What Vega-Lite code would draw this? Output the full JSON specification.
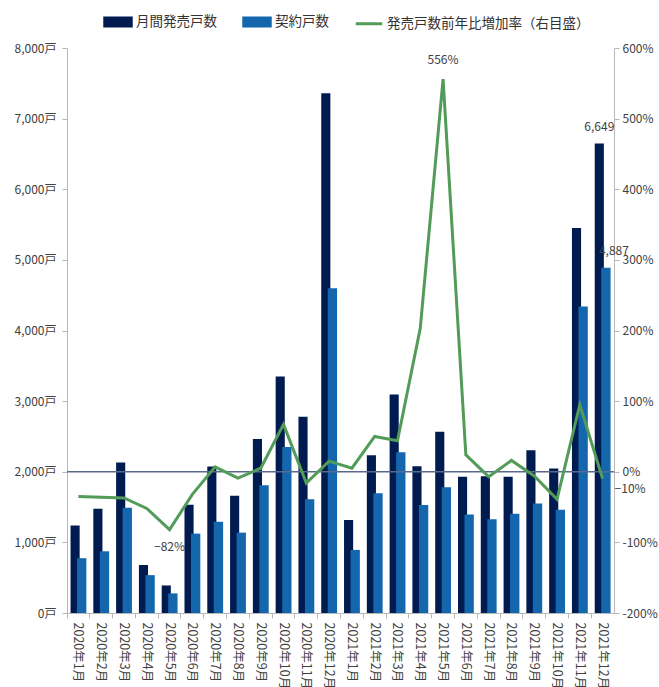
{
  "$schema": "https://vega.github.io/schema/vega-lite/v6.json",
  "width": 547,
  "height": 565,
  "autosize": {"type": "none"},
  "padding": {"left": 67, "top": 48, "right": 45, "bottom": 74},
  "background": "white",
  "config": {
    "font": "Noto Sans CJK JP",
    "view": {"stroke": null},
    "axis": {
      "grid": false,
      "title": null,
      "domainColor": "#b8b8b8",
      "tickColor": "#b8b8b8",
      "tickSize": 5,
      "labelFontSize": 12,
      "labelColor": "#404040",
      "labelFont": "Noto Sans CJK JP"
    }
  },
  "data": {
    "values": [
      {"month": "2020年1月", "sales": 1240, "contracts": 776, "rate": -35},
      {"month": "2020年2月", "sales": 1477, "contracts": 874, "rate": -36},
      {"month": "2020年3月", "sales": 2130, "contracts": 1491, "rate": -37},
      {"month": "2020年4月", "sales": 680, "contracts": 536, "rate": -52},
      {"month": "2020年5月", "sales": 390, "contracts": 278, "rate": -82},
      {"month": "2020年6月", "sales": 1533, "contracts": 1124, "rate": -32},
      {"month": "2020年7月", "sales": 2073, "contracts": 1293, "rate": 7},
      {"month": "2020年8月", "sales": 1660, "contracts": 1138, "rate": -9},
      {"month": "2020年9月", "sales": 2464, "contracts": 1810, "rate": 5},
      {"month": "2020年10月", "sales": 3347, "contracts": 2351, "rate": 67},
      {"month": "2020年11月", "sales": 2779, "contracts": 1612, "rate": -16},
      {"month": "2020年12月", "sales": 7360, "contracts": 4600, "rate": 15},
      {"month": "2021年1月", "sales": 1316, "contracts": 893, "rate": 5},
      {"month": "2021年2月", "sales": 2233, "contracts": 1697, "rate": 50},
      {"month": "2021年3月", "sales": 3093, "contracts": 2275, "rate": 44},
      {"month": "2021年4月", "sales": 2078, "contracts": 1528, "rate": 203},
      {"month": "2021年5月", "sales": 2567, "contracts": 1782, "rate": 556},
      {"month": "2021年6月", "sales": 1928, "contracts": 1396, "rate": 24},
      {"month": "2021年7月", "sales": 1937, "contracts": 1326, "rate": -7},
      {"month": "2021年8月", "sales": 1928, "contracts": 1406, "rate": 16},
      {"month": "2021年9月", "sales": 2304, "contracts": 1551, "rate": -6},
      {"month": "2021年10月", "sales": 2045, "contracts": 1462, "rate": -39},
      {"month": "2021年11月", "sales": 5450, "contracts": 4340, "rate": 95},
      {"month": "2021年12月", "sales": 6649, "contracts": 4887, "rate": -10}
    ]
  },
  "layer": [
    {
      "layer": [
        {
          "mark": {"type": "bar", "width": {"band": 0.4}, "xOffset": -3.3, "color": "#001b50"},
          "encoding": {
            "x": {
              "field": "month",
              "type": "nominal",
              "sort": null,
              "scale": {
                "domain": ["2020年1月", "2020年2月", "2020年3月", "2020年4月", "2020年5月", "2020年6月", "2020年7月", "2020年8月", "2020年9月", "2020年10月", "2020年11月", "2020年12月", "2021年1月", "2021年2月", "2021年3月", "2021年4月", "2021年5月", "2021年6月", "2021年7月", "2021年8月", "2021年9月", "2021年10月", "2021年11月", "2021年12月"],
                "paddingInner": 0,
                "paddingOuter": 0
              },
              "axis": {
                "labelAngle": 90,
                "labelPadding": 4,
                "bandPosition": 0,
                "labelFontSize": 12.5
              }
            },
            "y": {
              "field": "sales",
              "type": "quantitative",
              "scale": {"domain": [0, 8000], "nice": false},
              "axis": {
                "orient": "left",
                "values": [0, 1000, 2000, 3000, 4000, 5000, 6000, 7000, 8000],
                "labelExpr": "format(datum.value, ',') + '戸'",
                "labelPadding": 6
              }
            },
            "color": {
              "datum": "月間発売戸数",
              "type": "nominal",
              "scale": {
                "domain": ["月間発売戸数", "契約戸数", "発売戸数前年比増加率（右目盛）"],
                "range": ["#001b50", "#1466ad", "#529b58"]
              },
              "legend": {
                "orient": "none",
                "legendX": 36,
                "legendY": -41,
                "direction": "horizontal",
                "title": null,
                "labelFontSize": 13.5,
                "labelColor": "#333333",
                "labelFont": "Noto Sans CJK JP",
                "labelLimit": 400,
                "symbolSize": 700,
                "columnPadding": 20,
                "labelOffset": 3,
                "encode": {
                  "symbols": {
                    "update": {
                      "shape": {"signal": "datum.value === '発売戸数前年比増加率（右目盛）' ? 'stroke' : 'M-1,-0.3H1V0.3H-1Z'"},
                      "fill": {"signal": "datum.value === '発売戸数前年比増加率（右目盛）' ? 'transparent' : (datum.value === '契約戸数' ? '#1466ad' : '#001b50')"},
                      "stroke": {"signal": "datum.value === '発売戸数前年比増加率（右目盛）' ? '#529b58' : 'transparent'"},
                      "strokeWidth": {"value": 3},
                      "opacity": {"value": 1}
                    }
                  }
                }
              }
            }
          }
        },
        {
          "mark": {"type": "bar", "width": {"band": 0.41}, "xOffset": 3.3, "color": "#1466ad"},
          "encoding": {
            "x": {"field": "month", "type": "nominal", "sort": null},
            "y": {"field": "contracts", "type": "quantitative"},
            "color": {"datum": "契約戸数", "type": "nominal"}
          }
        },
        {
          "transform": [{"filter": "datum.month === '2021年12月'"}],
          "mark": {"type": "text", "align": "center", "baseline": "bottom", "dy": -9, "xOffset": -3.3, "fontSize": 12, "color": "#404040"},
          "encoding": {
            "x": {"field": "month", "type": "nominal", "sort": null},
            "y": {"field": "sales", "type": "quantitative"},
            "text": {"field": "sales", "type": "quantitative", "format": ","}
          }
        },
        {
          "transform": [{"filter": "datum.month === '2021年12月'"}],
          "mark": {"type": "text", "align": "center", "baseline": "bottom", "dy": -10, "dx": 8, "xOffset": 3.3, "fontSize": 12, "color": "#404040"},
          "encoding": {
            "x": {"field": "month", "type": "nominal", "sort": null},
            "y": {"field": "contracts", "type": "quantitative"},
            "text": {"field": "contracts", "type": "quantitative", "format": ","}
          }
        }
      ]
    },
    {
      "layer": [
        {
          "data": {"values": [{"rate": 0}]},
          "mark": {"type": "rule", "color": "#5a698c", "strokeWidth": 1.5},
          "encoding": {
            "y": {
              "field": "rate",
              "type": "quantitative",
              "scale": {"domain": [-200, 600], "nice": false},
              "axis": {
                "orient": "right",
                "values": [-200, -100, 0, 100, 200, 300, 400, 500, 600],
                "labelExpr": "datum.value + '%'",
                "labelPadding": 3
              }
            }
          }
        },
        {
          "mark": {"type": "line", "color": "#529b58", "strokeWidth": 3},
          "encoding": {
            "x": {"field": "month", "type": "nominal", "sort": null},
            "y": {"field": "rate", "type": "quantitative"},
            "color": {"datum": "発売戸数前年比増加率（右目盛）", "type": "nominal"}
          }
        },
        {
          "transform": [
            {"filter": "datum.month === '2021年5月'"},
            {"calculate": "format(datum.rate, 'd') + '%'", "as": "label"}
          ],
          "mark": {"type": "text", "align": "center", "baseline": "bottom", "dy": -12, "fontSize": 12, "color": "#404040"},
          "encoding": {
            "x": {"field": "month", "type": "nominal", "sort": null},
            "y": {"field": "rate", "type": "quantitative"},
            "text": {"field": "label", "type": "nominal"}
          }
        },
        {
          "transform": [
            {"filter": "datum.month === '2020年5月'"},
            {"calculate": "format(datum.rate, 'd') + '%'", "as": "label"}
          ],
          "mark": {"type": "text", "align": "center", "baseline": "top", "dy": 12, "fontSize": 12, "color": "#404040"},
          "encoding": {
            "x": {"field": "month", "type": "nominal", "sort": null},
            "y": {"field": "rate", "type": "quantitative"},
            "text": {"field": "label", "type": "nominal"}
          }
        },
        {
          "transform": [
            {"filter": "datum.month === '2021年12月'"},
            {"calculate": "format(datum.rate, 'd') + '%'", "as": "label"}
          ],
          "mark": {"type": "text", "align": "left", "baseline": "middle", "dx": 12, "dy": 10, "fontSize": 12, "color": "#404040"},
          "encoding": {
            "x": {"field": "month", "type": "nominal", "sort": null},
            "y": {"field": "rate", "type": "quantitative"},
            "text": {"field": "label", "type": "nominal"}
          }
        }
      ]
    }
  ],
  "resolve": {"scale": {"y": "independent"}}
}
